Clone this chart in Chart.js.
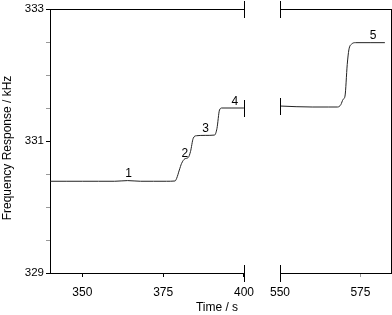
<!DOCTYPE html>
<html><head><meta charset="utf-8">
<script src="https://cdn.jsdelivr.net/npm/chart.js@4.4.0/dist/chart.umd.min.js"></script>
<style>
html,body{margin:0;padding:0;background:#fff;}
#wrap{position:relative;width:392px;height:315px;overflow:hidden;}
canvas{position:absolute;top:0;}
</style>
</head><body>
<div id="wrap">
<canvas id="c1" width="262" height="315" style="left:0;width:262px;height:315px"></canvas>
<canvas id="c2" width="130" height="315" style="left:262px;width:130px;height:315px"></canvas>
</div>
<script>
// ---- data ----
const leftTime = [340, 345, 350, 355, 360, 364, 368, 372, 376, 378.66, 379.18, 380.0, 380.7, 381.7, 382.76, 383.46, 384.29, 385.3, 388, 390.9, 391.64, 392.43, 393.17, 396, 399.78, 400];
const leftFreq = [330.39, 330.39, 330.39, 330.39, 330.39, 330.40, 330.39, 330.39, 330.39, 330.394, 330.435, 330.56, 330.66, 330.73, 330.75, 330.84, 331.04, 331.08, 331.085, 331.09, 331.19, 331.47, 331.50, 331.50, 331.50, 331.50];
const rightTime = [550, 555, 560, 565, 567.9, 568.9, 569.6, 570.2, 570.9, 571.4, 572.3, 573.5, 578, 582.6];
const rightFreq = [331.53, 331.52, 331.515, 331.515, 331.515, 331.55, 331.63, 331.68, 332.16, 332.38, 332.47, 332.49, 332.49, 332.49];
const leftTicks = [350, 375, 400];
const rightTicks = [550, 575];
const yTicks = [329, 329.5, 330, 330.5, 331, 331.5, 332, 332.5, 333];
const yLabels = [329, 331, 333];
const stepLabels = ['1', '2', '3', '4', '5'];
const stepTime = [364.3, 381.7, 388.1, 397.2, 578.9];
const stepFreq = [330.51, 330.81, 331.19, 331.59, 332.59];
const yTitle = 'Frequency Response / kHz';
const xTitle = 'Time / s';

Chart.defaults.font.family = "'Liberation Sans', Arial, sans-serif";
Chart.defaults.color = '#000';

const px = v => Math.round(v) + 0.5;

function framePlugin(side) {
  return {
    id: 'frame_' + side,
    afterDraw(chart) {
      const {ctx, chartArea: a, scales} = chart;
      ctx.save();
      ctx.strokeStyle = '#000';
      ctx.lineWidth = 1;
      ctx.beginPath();
      ctx.moveTo(a.left, px(a.top)); ctx.lineTo(a.right + 0.5, px(a.top));
      const bx = side === 'left' ? a.right : a.left;
      const endV = side === 'left' ? leftFreq[leftFreq.length - 1] : rightFreq[0];
      const ey = scales.y.getPixelForValue(endV);
      [a.top, a.bottom, ey].forEach(y => { ctx.moveTo(px(bx), Math.round(y) - 8); ctx.lineTo(px(bx), Math.round(y) + 9); });
      if (side === 'right') { ctx.moveTo(px(a.right), a.top); ctx.lineTo(px(a.right), a.bottom + 0.5); }
      ctx.stroke();
      // step labels
      ctx.fillStyle = '#000';
      ctx.font = "12px 'Liberation Sans', Arial, sans-serif";
      ctx.textAlign = 'center';
      ctx.textBaseline = 'middle';
      stepLabels.forEach((s, i) => {
        const inLeft = stepTime[i] <= 400;
        if ((side === 'left') !== inLeft) return;
        ctx.fillText(s, scales.x.getPixelForValue(stepTime[i]), scales.y.getPixelForValue(stepFreq[i]));
      });
      if (side === 'left') {
        ctx.fillText(xTitle, 217, 307.5);
        ctx.translate(8, 148);
        ctx.rotate(-Math.PI / 2);
        ctx.fillText(yTitle, 0, 0);
      }
      ctx.restore();
    }
  };
}

function xScale(min, max, ticksArr, tickCol) {
  return {
    type: 'linear', min: min, max: max,
    afterBuildTicks: s => { s.ticks = ticksArr.map(v => ({value: v})); },
    afterFit: s => { s.height = 42; },
    ticks: {font: {size: 12}, color: '#000', padding: 8, maxRotation: 0, autoSkip: false},
    grid: {drawOnChartArea: false, drawTicks: true, tickLength: 4, color: tickCol},
    border: {display: true, color: '#000', width: 1}
  };
}

const common = {
  responsive: false, animation: false, devicePixelRatio: 1,
  plugins: {legend: {display: false}, tooltip: {enabled: false}},
  elements: {point: {radius: 0}, line: {borderWidth: 1, borderColor: '#222', cubicInterpolationMode: 'monotone'}}
};

new Chart(document.getElementById('c1'), {
  type: 'line',
  data: {datasets: [{data: leftTime.map((t, i) => ({x: t, y: leftFreq[i]})), borderColor: '#222', borderWidth: 1, pointRadius: 0}]},
  options: Object.assign({}, common, {
    layout: {padding: {left: 0, right: 16, top: 9, bottom: 0}},
    scales: {
      x: xScale(340, 400, leftTicks, '#000'),
      y: {
        type: 'linear', min: 329, max: 333,
        afterBuildTicks: s => { s.ticks = yTicks.map(v => ({value: v})); },
        afterFit: s => { s.width = 50; },
        ticks: {font: {size: 11.5}, color: '#000', padding: 2, autoSkip: false,
                callback: v => yLabels.includes(v) ? String(v) : ''},
        grid: {drawOnChartArea: false, drawTicks: true, tickLength: 4,
               color: c => (c.tick && yLabels.includes(c.tick.value)) ? '#000' : '#999'},
        border: {display: true, color: '#000', width: 1}
      }
    }
  }),
  plugins: [framePlugin('left')]
});

new Chart(document.getElementById('c2'), {
  type: 'line',
  data: {datasets: [{data: rightTime.map((t, i) => ({x: t, y: rightFreq[i]})), borderColor: '#222', borderWidth: 1, pointRadius: 0}]},
  options: Object.assign({}, common, {
    layout: {padding: {left: 16, right: 1, top: 9, bottom: 0}},
    scales: {
      x: xScale(550, 584.5, rightTicks, '#999'),
      y: {type: 'linear', min: 329, max: 333, display: false}
    }
  }),
  plugins: [framePlugin('right')]
});
</script>
</body></html>
